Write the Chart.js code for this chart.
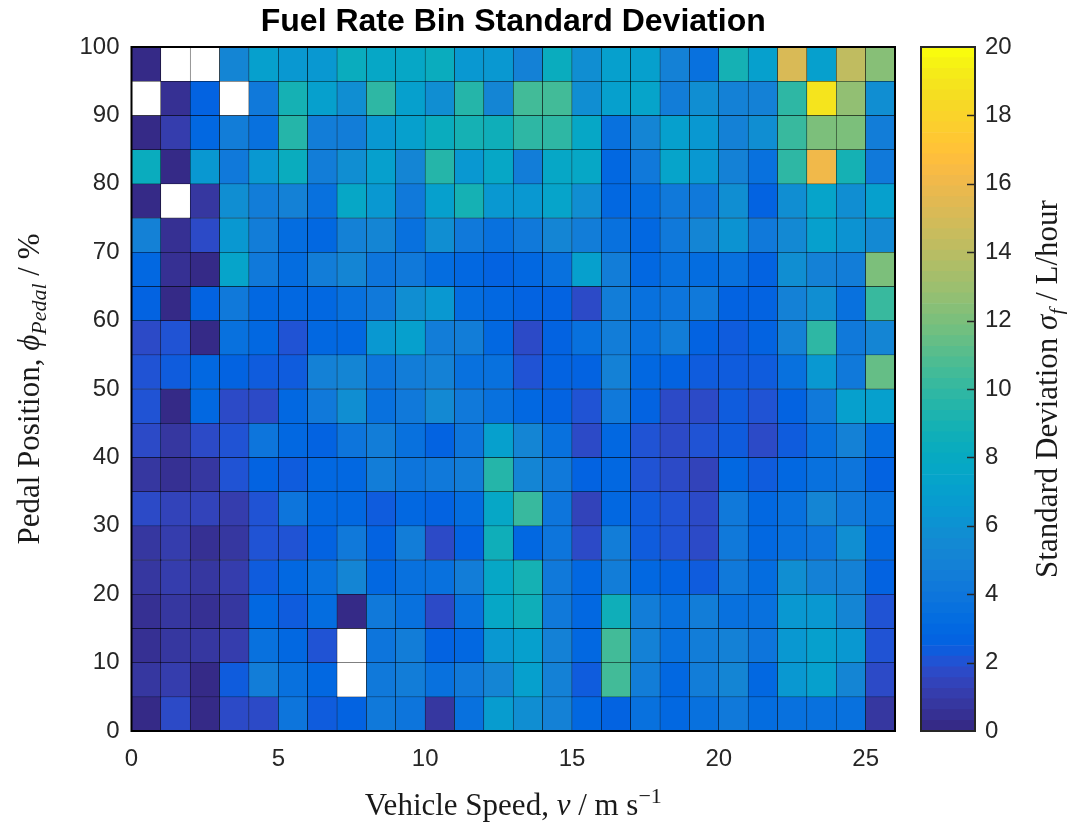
<!DOCTYPE html>
<html>
<head>
<meta charset="utf-8">
<script src="https://cdn.jsdelivr.net/npm/chart.js@4.4.1/dist/chart.umd.min.js"></script>
<style>
  html, body { margin: 0; padding: 0; background: #fff; }
  #wrap { position: relative; width: 1067px; height: 827px; }
  #heat { position: absolute; left: 0; top: 0; }
  #cbar { position: absolute; left: 900px; top: 0; }
</style>
</head>
<body>
<div id="wrap">
  <canvas id="heat" width="900" height="827"></canvas>
  <canvas id="cbar" width="167" height="827"></canvas>
</div>
<script>
// speed bins (lower edge, m/s) and pedal bins (lower edge, %)
const speedBins = [0, 1, 2, 3, 4, 5, 6, 7, 8, 9, 10, 11, 12, 13, 14, 15, 16, 17, 18, 19, 20, 21, 22, 23, 24, 25];
const pedalBins = [0, 5, 10, 15, 20, 25, 30, 35, 40, 45, 50, 55, 60, 65, 70, 75, 80, 85, 90, 95];
const speedTicks = [0, 5, 10, 15, 20, 25];
const pedalTicks = [0, 10, 20, 30, 40, 50, 60, 70, 80, 90, 100];
const sdTicks = [0, 2, 4, 6, 8, 10, 12, 14, 16, 18, 20];

// standard deviation (L/hour) per speed bin, one list per pedal bin; null = empty bin
const sdP95 = [0.2, null, null, 5.3, 7.0, 6.4, 6.4, 8.2, 7.7, 7.7, 8.2, 6.4, 6.4, 4.8, 8.2, 5.8, 7.0, 7.0, 4.8, 3.7, 8.9, 7.0, 15.1, 7.0, 14.2, 12.3];
const sdP90 = [null, 0.6, 2.7, null, 4.2, 9.0, 7.0, 5.8, 9.8, 7.0, 5.8, 9.4, 5.3, 10.4, 10.4, 5.8, 7.0, 7.3, 4.5, 5.8, 4.8, 4.8, 9.8, 19.0, 12.6, 5.8];
const sdP85 = [0.2, 1.0, 3.0, 4.5, 3.6, 9.4, 4.5, 4.5, 6.5, 7.0, 8.2, 8.9, 8.5, 9.8, 9.8, 7.7, 3.7, 5.2, 7.0, 6.5, 4.8, 5.8, 10.1, 12.0, 12.0, 4.5];
const sdP80 = [8.2, 0.2, 6.4, 4.3, 6.4, 8.2, 4.5, 5.8, 7.0, 5.3, 9.4, 6.5, 7.7, 4.5, 7.7, 7.7, 3.0, 4.2, 7.3, 6.5, 4.8, 3.7, 9.8, 16.1, 8.9, 4.2];
const sdP75 = [0.2, null, 0.9, 5.8, 4.5, 4.7, 3.7, 7.7, 6.4, 4.2, 7.0, 8.9, 6.4, 6.4, 7.4, 5.9, 3.0, 3.2, 4.2, 4.2, 5.9, 2.7, 5.9, 7.2, 5.9, 7.0];
const sdP70 = [4.7, 0.6, 1.7, 6.4, 4.6, 3.4, 2.9, 4.8, 5.2, 3.7, 5.9, 4.3, 3.6, 4.2, 5.3, 4.5, 3.6, 3.1, 4.2, 5.2, 6.1, 4.2, 5.6, 7.0, 6.0, 5.5];
const sdP65 = [3.1, 0.5, 0.2, 7.3, 4.2, 3.4, 4.6, 5.2, 3.8, 4.3, 3.4, 3.1, 2.6, 3.1, 3.5, 7.1, 4.6, 3.1, 3.6, 3.2, 3.5, 2.8, 5.9, 4.8, 4.6, 12.0];
const sdP60 = [2.7, 0.3, 2.6, 4.3, 3.1, 2.9, 3.1, 3.5, 4.3, 5.8, 6.5, 3.2, 2.9, 2.8, 2.6, 1.7, 4.6, 3.6, 3.8, 4.3, 2.6, 2.6, 4.9, 5.8, 3.6, 10.1];
const sdP55 = [1.7, 2.1, 0.2, 3.7, 2.9, 2.1, 3.1, 3.1, 6.4, 7.0, 4.5, 4.5, 2.9, 1.7, 2.7, 3.6, 4.6, 3.7, 4.6, 2.8, 2.3, 2.6, 4.8, 9.8, 4.2, 5.3];
const sdP50 = [2.0, 2.3, 3.1, 2.6, 2.3, 2.3, 4.8, 5.2, 3.8, 4.6, 4.8, 3.6, 3.7, 2.0, 2.8, 2.6, 4.8, 3.0, 2.8, 2.3, 2.3, 2.3, 3.6, 6.5, 4.2, 11.4];
const sdP45 = [2.0, 0.3, 3.0, 1.7, 1.7, 3.0, 4.2, 5.8, 3.7, 4.3, 5.5, 4.2, 3.6, 3.0, 2.8, 2.0, 4.2, 2.8, 1.7, 1.7, 2.3, 2.0, 2.8, 4.2, 7.0, 7.0];
const sdP40 = [1.7, 0.8, 1.7, 2.0, 4.0, 3.1, 2.8, 3.8, 4.6, 3.6, 2.6, 4.0, 7.0, 5.2, 3.6, 1.7, 2.9, 2.0, 1.7, 2.0, 2.3, 1.7, 2.3, 3.5, 4.8, 3.4];
const sdP35 = [0.8, 0.5, 0.8, 2.0, 2.6, 2.3, 3.0, 2.9, 4.5, 3.8, 4.2, 4.6, 9.4, 5.2, 4.2, 2.8, 2.9, 2.0, 1.7, 1.3, 2.9, 2.3, 2.9, 3.5, 3.8, 2.8];
const sdP30 = [1.7, 1.3, 1.3, 1.2, 2.0, 4.0, 2.9, 3.0, 2.3, 3.0, 2.8, 3.4, 7.7, 10.1, 4.0, 1.3, 2.9, 2.3, 2.0, 1.7, 4.2, 2.9, 3.5, 5.2, 4.2, 3.6];
const sdP25 = [0.8, 1.2, 0.5, 0.8, 2.0, 2.0, 2.8, 4.2, 2.8, 4.5, 1.7, 2.8, 8.5, 2.9, 3.8, 1.7, 4.5, 2.3, 2.0, 1.7, 4.1, 2.9, 3.6, 3.8, 5.9, 2.9];
const sdP20 = [0.8, 1.2, 0.8, 1.0, 2.3, 3.0, 3.5, 5.1, 3.0, 3.5, 3.5, 4.6, 7.7, 9.0, 4.1, 2.9, 4.5, 2.9, 2.8, 2.3, 4.1, 3.4, 5.8, 4.8, 4.8, 2.8];
const sdP15 = [0.5, 0.8, 0.5, 0.8, 3.0, 2.3, 3.4, 0.2, 4.1, 3.7, 1.6, 3.7, 7.7, 8.5, 4.1, 2.9, 8.5, 4.5, 3.5, 4.5, 3.7, 3.5, 6.3, 6.4, 5.2, 2.0];
const sdP10 = [0.5, 0.8, 0.7, 1.0, 3.5, 3.0, 2.0, null, 3.9, 4.4, 2.7, 3.0, 6.3, 7.0, 4.8, 2.9, 10.4, 4.8, 3.5, 4.6, 4.8, 4.0, 6.5, 7.0, 6.5, 2.0];
const sdP5 = [0.7, 1.0, 0.2, 2.3, 4.6, 3.7, 3.0, null, 4.1, 4.5, 3.7, 4.2, 5.3, 7.0, 4.7, 2.3, 10.4, 4.5, 2.9, 4.5, 5.1, 2.9, 6.4, 7.0, 5.1, 1.7];
const sdP0 = [0.2, 1.6, 0.2, 1.6, 1.7, 4.0, 2.3, 2.7, 4.3, 3.9, 0.8, 3.6, 6.6, 5.8, 4.7, 2.9, 2.6, 3.5, 3.0, 3.5, 4.2, 3.4, 3.5, 3.5, 3.6, 0.8];

const sdByPedal = [sdP0, sdP5, sdP10, sdP15, sdP20, sdP25, sdP30, sdP35, sdP40, sdP45,
                   sdP50, sdP55, sdP60, sdP65, sdP70, sdP75, sdP80, sdP85, sdP90, sdP95];

const speedStep = 1;
const pedalStep = 5;
const cMin = 0;
const cMax = 20;

// MATLAB parula, 64 entries
const parula = [
  '#352A87', '#363093', '#3637A0', '#353DAD', '#3243BA', '#2C4AC7', '#2053D4', '#0F5CDD',
  '#0363E1', '#0268E1', '#046DE0', '#0871DE', '#0D75DC', '#1079DA', '#127DD8', '#1481D6',
  '#1485D4', '#1389D3', '#108ED2', '#0C93D2', '#0998D1', '#079CCF', '#06A0CD', '#06A4CA',
  '#06A7C6', '#07A9C2', '#0AACBE', '#0FAEB9', '#15B1B4', '#1DB3AF', '#25B5A9', '#2EB7A4',
  '#38B99E', '#42BB98', '#4DBC92', '#59BD8C', '#65BE86', '#71BF80', '#7CBF7B', '#87BF77',
  '#92BF73', '#9CBF6F', '#A5BE6B', '#AEBE67', '#B7BD64', '#C0BC60', '#C8BC5D', '#D1BB59',
  '#D9BA56', '#E1B952', '#E9B94E', '#F1B94A', '#F8BB44', '#FDBE3D', '#FFC337', '#FEC832',
  '#FCCE2E', '#FAD32A', '#F7D826', '#F5DE21', '#F5E41D', '#F5EB18', '#F6F313', '#F9FB0E'
];

const sansFamily = "'Liberation Sans', Arial, Helvetica, sans-serif";
const serifFamily = "'Liberation Serif', 'Times New Roman', 'DejaVu Serif', serif";
const tickColour = '#262626';

const cellColour = function(v) {
    if (v === null || v === undefined) {
        return '#ffffff';
    }
    let i = Math.floor((v - cMin) / (cMax - cMin) * parula.length);
    i = Math.max(0, Math.min(parula.length - 1, i));
    return parula[i];
};

// Draw a line of text made of runs with their own font and baseline shift
const drawRuns = function(ctx, runs, x, y, angle, colour) {
    ctx.save();
    ctx.translate(x, y);
    ctx.rotate(angle);
    ctx.fillStyle = colour;
    ctx.textBaseline = 'alphabetic';
    ctx.textAlign = 'left';
    let total = 0;
    runs.forEach(function(r) {
        ctx.font = r.font;
        r.w = ctx.measureText(r.t).width;
        total += r.w;
    });
    let cx = -total / 2;
    runs.forEach(function(r) {
        ctx.font = r.font;
        ctx.fillText(r.t, cx, r.dy || 0);
        cx += r.w;
    });
    ctx.restore();
};

// Build the cells
const cells = [];
pedalBins.forEach(function(p, r) {
    speedBins.forEach(function(s, c) {
        cells.push({x: s + speedStep / 2, y: [p, p + pedalStep], v: sdByPedal[r][c]});
    });
});

const labelSize = 31;
const scriptSize = 22;

const heatDecor = {
    id: 'heatDecor',
    afterDraw: function(chart) {
        const ctx = chart.ctx;
        const a = chart.chartArea;
        ctx.save();
        ctx.strokeStyle = '#000';
        ctx.lineWidth = 2;
        ctx.strokeRect(a.left, a.top, a.right - a.left, a.bottom - a.top);
        ctx.restore();

        const mid = (a.left + a.right) / 2;
        ctx.save();
        ctx.fillStyle = '#000';
        ctx.font = 'bold 32px ' + sansFamily;
        ctx.textAlign = 'center';
        ctx.textBaseline = 'middle';
        ctx.fillText('Fuel Rate Bin Standard Deviation', mid, 22);
        ctx.restore();

        const rm = labelSize + 'px ' + serifFamily;
        const it = 'italic ' + labelSize + 'px ' + serifFamily;
        const sub = 'italic ' + scriptSize + 'px ' + serifFamily;
        const sup = scriptSize + 'px ' + serifFamily;
        drawRuns(ctx, [
            {t: 'Vehicle Speed, ', font: rm},
            {t: 'v', font: it},
            {t: ' / m s', font: rm},
            {t: '\u22121', font: sup, dy: -12}
        ], mid, 815, 0, '#1a1a1a');

        drawRuns(ctx, [
            {t: 'Pedal Position, ', font: rm},
            {t: '\u03d5', font: it},
            {t: 'Pedal', font: sub, dy: 7},
            {t: ' / %', font: rm}
        ], 39, (a.top + a.bottom) / 2, -Math.PI / 2, '#1a1a1a');
    }
};

new Chart(document.getElementById('heat'), {
    type: 'bar',
    data: {
        datasets: [{
            data: cells,
            backgroundColor: function(ctx) {
                return cellColour(ctx.raw ? ctx.raw.v : null);
            },
            borderColor: '#000',
            borderWidth: 0.5,
            borderSkipped: false,
            barPercentage: 1,
            categoryPercentage: 1,
            grouped: false
        }]
    },
    options: {
        responsive: false,
        animation: false,
        events: [],
        layout: {padding: {top: 47, right: 5, left: 0, bottom: 0}},
        plugins: {legend: {display: false}, tooltip: {enabled: false}, title: {display: false}},
        scales: {
            x: {
                type: 'linear',
                offset: false,
                min: 0,
                max: 26,
                grid: {display: false, drawTicks: false},
                border: {display: false},
                afterBuildTicks: function(scale) {
                    scale.ticks = speedTicks.map(function(v) { return {value: v}; });
                },
                ticks: {padding: 14, maxRotation: 0, color: tickColour, font: {family: sansFamily, size: 24}},
                afterFit: function(scale) { scale.height = 96; }
            },
            y: {
                type: 'linear',
                min: 0,
                max: 100,
                grid: {display: false, drawTicks: false},
                border: {display: false},
                afterBuildTicks: function(scale) {
                    scale.ticks = pedalTicks.map(function(v) { return {value: v}; });
                },
                ticks: {padding: 12, color: tickColour, font: {family: sansFamily, size: 24}},
                afterFit: function(scale) { scale.width = 131.5; }
            }
        }
    },
    plugins: [heatDecor]
});

// Colour bar
const cbarDecor = {
    id: 'cbarDecor',
    afterDraw: function(chart) {
        const ctx = chart.ctx;
        const a = chart.chartArea;
        const y = chart.scales.y;
        ctx.save();
        ctx.strokeStyle = tickColour;
        ctx.lineWidth = 1.5;
        sdTicks.forEach(function(v) {
            if (v === cMin || v === cMax) {
                return;
            }
            const py = Math.round(y.getPixelForValue(v)) + 0.5;
            ctx.beginPath();
            ctx.moveTo(a.right, py);
            ctx.lineTo(a.right - 8, py);
            ctx.stroke();
        });
        ctx.lineWidth = 2;
        ctx.strokeRect(a.left, a.top, a.right - a.left, a.bottom - a.top);
        ctx.restore();

        const rm = labelSize + 'px ' + serifFamily;
        const it = 'italic ' + labelSize + 'px ' + serifFamily;
        const sub = 'italic ' + scriptSize + 'px ' + serifFamily;
        drawRuns(ctx, [
            {t: 'Standard Deviation ', font: rm},
            {t: '\u03c3', font: it},
            {t: 'f', font: sub, dy: 7},
            {t: ' / L/hour', font: rm}
        ], 157, (a.top + a.bottom) / 2, -Math.PI / 2, '#1a1a1a');
    }
};

new Chart(document.getElementById('cbar'), {
    type: 'bar',
    data: {
        labels: [''],
        datasets: parula.map(function(colour, i) {
            return {
                data: [[cMin + i * (cMax - cMin) / parula.length, cMin + (i + 1) * (cMax - cMin) / parula.length]],
                backgroundColor: colour,
                borderWidth: 0,
                grouped: false,
                barPercentage: 1,
                categoryPercentage: 1
            };
        })
    },
    options: {
        responsive: false,
        animation: false,
        events: [],
        layout: {padding: {top: 47, left: 21, bottom: 96, right: 0}},
        plugins: {legend: {display: false}, tooltip: {enabled: false}},
        scales: {
            x: {display: false},
            y: {
                position: 'right',
                min: cMin,
                max: cMax,
                grid: {display: false, drawTicks: false},
                border: {display: false},
                afterBuildTicks: function(scale) {
                    scale.ticks = sdTicks.map(function(v) { return {value: v}; });
                },
                ticks: {padding: 10, color: tickColour, font: {family: sansFamily, size: 24}},
                afterFit: function(scale) { scale.width = 92; }
            }
        }
    },
    plugins: [cbarDecor]
});
</script>
</body>
</html>
